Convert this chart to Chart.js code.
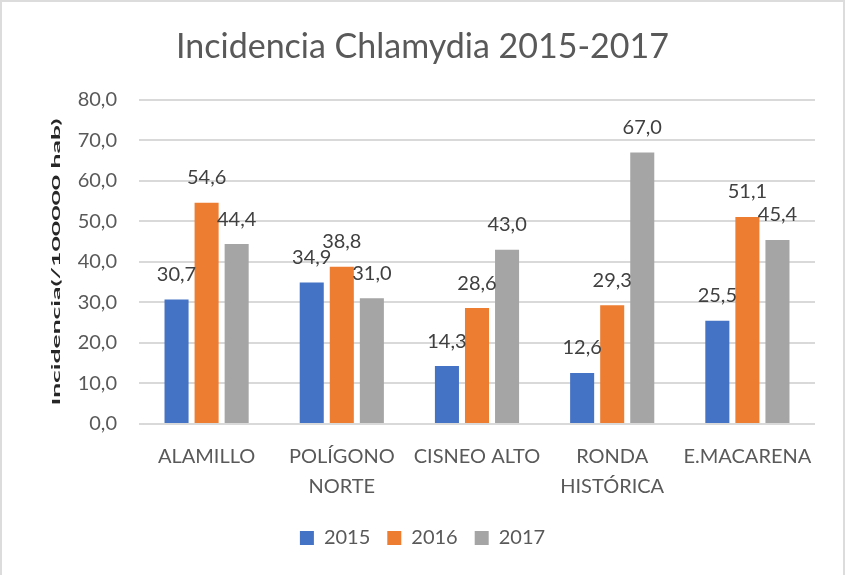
<!DOCTYPE html>
<html><head><meta charset="utf-8">
<script src="https://cdn.jsdelivr.net/npm/chart.js@4/dist/chart.umd.min.js"></script>
<style>
html,body{margin:0;padding:0;background:#fff}
#wrap{position:relative;width:845px;height:575px}
#frame{position:absolute;left:0;top:0;width:845px;height:575px;box-sizing:border-box;border:2px solid #dcdcdc;border-bottom:none;pointer-events:none}
canvas{display:block}
</style></head><body>
<div id="wrap"><canvas id="c" width="845" height="575"></canvas><div id="frame"></div></div>
<script>
const categories = [["ALAMILLO"], ["POLÍGONO", "NORTE"], ["CISNEO ALTO"], ["RONDA", "HISTÓRICA"], ["E.MACARENA"]];
const seriesNames = ["2015", "2016", "2017"];
const values2015 = [30.7, 34.9, 14.3, 12.6, 25.5];
const values2016 = [54.6, 38.8, 28.6, 29.3, 51.1];
const values2017 = [44.4, 31.0, 43.0, 67.0, 45.4];
const yMin = 0, yMax = 80, yStep = 10;
const chartTitle = "Incidencia Chlamydia 2015-2017";
const yAxisTitle = "Incidencia(/100000 hab)";

const colors = ["#4472C4", "#ED7D31", "#A5A5A5"];
const FONT = "Lato, 'Open Sans', sans-serif";
const fmt = v => v.toFixed(1).replace('.', ',');

const labelPlugin = {
  id: 'barLabels',
  afterDatasetsDraw(chart) {
    const ctx = chart.ctx;
    ctx.save();
    ctx.font = "20px " + FONT;
    ctx.fillStyle = "#404040";
    ctx.textAlign = "center";
    ctx.textBaseline = "middle";
    chart.data.datasets.forEach((ds, i) => {
      const meta = chart.getDatasetMeta(i);
      meta.data.forEach((el, j) => {
        ctx.fillText(fmt(ds.data[j]), el.x, el.y - 25);
      });
    });
    ctx.restore();
  },
  afterDraw(chart) {
    const ctx = chart.ctx;
    ctx.save();
    ctx.font = "bold 11px " + FONT;
    ctx.fillStyle = "#262626";
    ctx.textAlign = "center";
    ctx.textBaseline = "middle";
    const w = ctx.measureText(yAxisTitle).width;
    const target = 287;
    ctx.translate(56, 262);
    ctx.rotate(-Math.PI / 2);
    ctx.scale(target / w, 1);
    ctx.fillText(yAxisTitle, 0, 0);
    ctx.restore();
  }
};

new Chart(document.getElementById('c'), {
  type: 'bar',
  data: {
    labels: categories,
    datasets: [
      { label: seriesNames[0], data: values2015, backgroundColor: colors[0] },
      { label: seriesNames[1], data: values2016, backgroundColor: colors[1] },
      { label: seriesNames[2], data: values2017, backgroundColor: colors[2] }
    ]
  },
  options: {
    responsive: false,
    animation: false,
    devicePixelRatio: 1,
    categoryPercentage: 0.667,
    barPercentage: 0.8,
    layout: { padding: { left: 0, right: 0, top: 0, bottom: 17 } },
    plugins: {
      title: {
        display: true, text: chartTitle,
        color: "#595959",
        font: { family: FONT, size: 34, weight: 'normal' },
        padding: { top: 27, bottom: 32 }
      },
      legend: {
        position: 'bottom',
        labels: {
          boxWidth: 14, boxHeight: 14,
          color: "#595959",
          font: { family: FONT, size: 20 },
          padding: 17
        }
      },
      tooltip: { enabled: false }
    },
    scales: {
      x: {
        grid: { display: false, drawTicks: false },
        border: { display: false },
        ticks: { color: "#595959", font: { family: FONT, size: 20, lineHeight: 1.5 }, padding: 18, maxRotation: 0, autoSkip: false },
        afterFit(s) { s.height = 87; }
      },
      y: {
        min: yMin, max: yMax,
        ticks: { stepSize: yStep, color: "#595959", font: { family: FONT, size: 20 }, padding: 22, callback: v => fmt(v) },
        grid: { color: "#d9d9d9", lineWidth: 2, drawTicks: false },
        border: { display: false },
        afterFit(s) { s.width = 139; }
      },
      yRight: {
        position: 'right',
        min: yMin, max: yMax,
        grid: { display: false, drawTicks: false },
        border: { display: false },
        ticks: { display: false },
        afterFit(s) { s.width = 30; }
      }
    }
  },
  plugins: [labelPlugin]
});
</script>
</body></html>
